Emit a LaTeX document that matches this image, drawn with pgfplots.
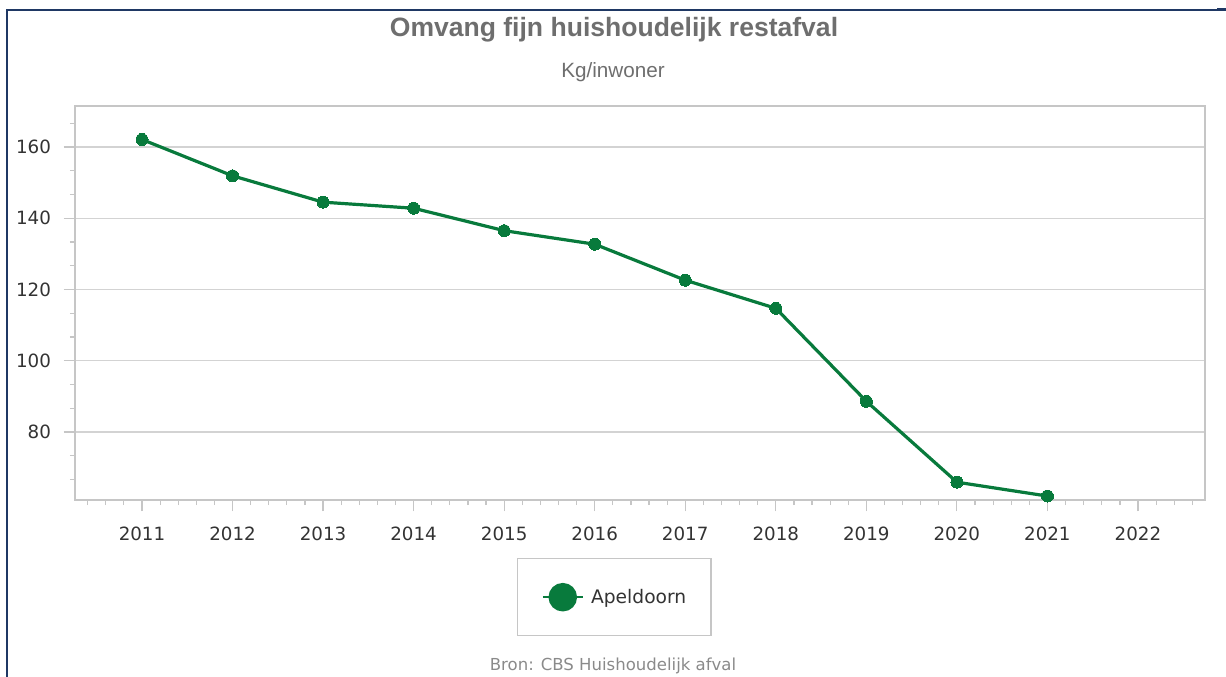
\documentclass[border=0pt]{standalone}
\usepackage{pgfplots}
\pgfplotsset{compat=1.18}
\usepackage{fontspec}
\setmainfont{DejaVu Sans}
\newfontfamily\arial{Liberation Sans}
\definecolor{lijn}{HTML}{087A3C}
\definecolor{rooster}{HTML}{D3D3D3}
\definecolor{kader}{HTML}{C6C6C6}
\definecolor{titel}{HTML}{6E6E6E}
\definecolor{tekst}{HTML}{333333}
\definecolor{bron}{HTML}{8A8A8A}
\definecolor{rand}{HTML}{1F3864}

\begin{document}
\begin{tikzpicture}[x=1pt,y=1pt]
\useasboundingbox (0,0) rectangle (919.5,507.75);
\draw[rand, line width=1.5pt] (5.6,0) -- (5.6,500.6) -- (913,500.6);
\fill[rand] (913,499.6) rectangle (919.5,502);
\node[anchor=base, font=\arial\bfseries\fontsize{19.9}{22}\selectfont, text=titel] at (460.5,480) {Omvang fijn huishoudelijk restafval};
\node[anchor=base, font=\arial\fontsize{15.5}{18}\selectfont, text=titel] at (459.75,449.25) {Kg/inwoner};
\node[anchor=base, font=\fontsize{12.4}{14}\selectfont, text=bron] at (459.75,4.5) {Bron: CBS Huishoudelijk afval};
\begin{axis}[
  at={(56.25pt,132.75pt)}, anchor=south west,
  scale only axis, width=847.5pt, height=295.5pt,
  xmin=2010.26, xmax=2022.74, ymin=60.9, ymax=171.5,
  xtick={2011,...,2022},
  minor xtick={2010.4,2010.6,2010.8,2011.2,2011.4,2011.6,2011.8,2012.2,2012.4,2012.6,2012.8,2013.2,2013.4,2013.6,2013.8,2014.2,2014.4,2014.6,2014.8,2015.2,2015.4,2015.6,2015.8,2016.2,2016.4,2016.6,2016.8,2017.2,2017.4,2017.6,2017.8,2018.2,2018.4,2018.6,2018.8,2019.2,2019.4,2019.6,2019.8,2020.2,2020.4,2020.6,2020.8,2021.2,2021.4,2021.6,2021.8,2022.2,2022.4,2022.6},
  ytick={80,100,120,140,160},
  minor ytick={66.667,73.333,86.667,93.333,106.667,113.333,126.667,133.333,146.667,153.333,166.667},
  tick pos=left, tick align=outside,
  major tick length=8.5pt, minor tick length=3.8pt,
  every tick/.style={kader, line width=0.9pt},
  axis line style={kader, line width=1.2pt},
  ymajorgrids, major grid style={rooster, line width=1pt},
  /pgf/number format/assume math mode=true,
  xticklabel style={/pgf/number format/1000 sep=, font=\fontsize{13.7}{16}\selectfont, text=tekst, yshift=-8pt},
  yticklabel style={font=\fontsize{13.7}{16}\selectfont, text=tekst, xshift=-6pt},
  legend style={at={(0.477,0)}, anchor=north, yshift=-43.5pt,
    draw=kader, line width=0.9pt,
    inner xsep=18.5pt, inner ysep=18.25pt, nodes={inner sep=0pt}, column sep=5.5pt,
    font=\fontsize{14}{16}\selectfont, text=tekst},
  legend image code/.code={
    \draw[lijn, line width=1.5pt] (0pt,0pt) -- (30pt,0pt);
    \fill[lijn] (15pt,0pt) circle (9.5pt);
  },
]
\addplot[lijn, line width=2.4pt, mark=*, mark size=4.5pt, mark options={fill=lijn, draw=lijn, line width=0pt}]
  coordinates {
  (2011,162.1) (2012,151.9) (2013,144.5) (2014,142.8) (2015,136.5)
  (2016,132.7) (2017,122.6) (2018,114.7) (2019,88.6) (2020,65.9) (2021,62.0)
  };
\addlegendentry{Apeldoorn}
\end{axis}
\end{tikzpicture}
\end{document}
